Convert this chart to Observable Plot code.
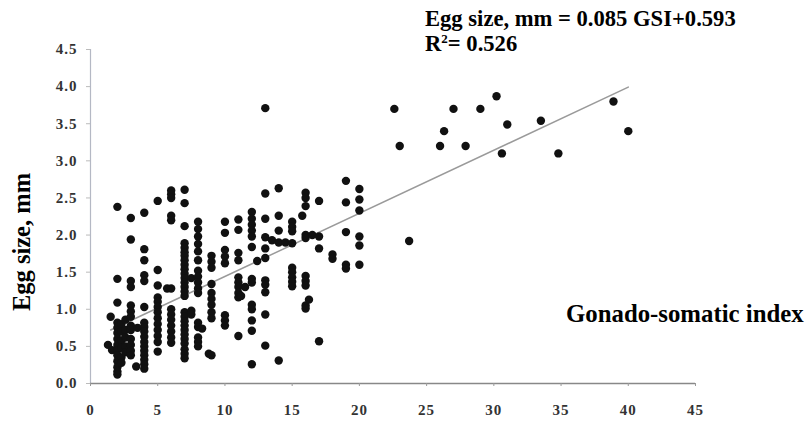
<!DOCTYPE html>
<html>
<head>
<meta charset="utf-8">
<script src="https://cdn.jsdelivr.net/npm/d3@7"></script>
<script src="https://cdn.jsdelivr.net/npm/@observablehq/plot@0.6"></script>
<style>
  html, body { margin: 0; padding: 0; background: #fff; }
  #chart { width: 807px; height: 421px; }
</style>
</head>
<body>
<div id="chart"></div>
<script>
// Gonado-somatic index (x) of each point
const gsi = [
  1.5, 1.3, 1.6,
  2, 2, 2, 2, 2, 2, 2, 2, 2, 2, 2, 2, 2, 2,
  2.3, 2.3, 2.3, 2.3, 2.3, 2.3,
  2.6, 2.6, 2.6, 2.6, 2.6,
  3, 3, 3, 3, 3, 3, 3, 3, 3, 3, 3, 3, 3,
  3.4, 3.5,
  4, 4, 4, 4, 4, 4, 4, 4, 4, 4, 4, 4, 4, 4, 4, 4, 4,
  5, 5, 5, 5, 5, 5, 5, 5, 5, 5, 5, 5, 5,
  5.7,
  6, 6, 6, 6, 6, 6, 6, 6, 6, 6, 6, 6, 6,
  7, 7, 7, 7, 7, 7, 7, 7, 7, 7, 7, 7, 7, 7, 7, 7, 7, 7, 7, 7, 7, 7, 7, 7, 7, 7, 7,
  7.5, 7.5, 7.5,
  8, 8, 8, 8, 8, 8, 8, 8, 8, 8, 8, 8, 8, 8, 8, 8,
  8.3, 8.8,
  9, 9, 9, 9, 9, 9, 9, 9, 9, 9,
  10, 10, 10, 10, 10, 10, 10, 10,
  11, 11, 11, 11, 11, 11, 11, 11, 11, 11, 11.2, 11.5,
  12, 12, 12, 12, 12, 12, 12, 12, 12, 12, 12, 12, 12, 12.4,
  13, 13, 13, 13, 13, 13, 13, 13, 13, 13, 13, 13.5,
  14, 14, 14, 14, 14, 14.5,
  15, 15, 15, 15, 15, 15, 15, 15, 15,
  15.75, 16, 16, 16, 16, 16, 16, 16, 16, 16, 16, 16.25, 16.5,
  17, 17, 17, 17,
  18, 18,
  19, 19, 19, 19, 19,
  20, 20, 20, 20, 20, 20,
  23.7,
  22.6, 23.0, 26.0, 26.3, 27.0, 27.9, 29.0, 30.2, 30.6, 31.0, 33.5, 34.8, 38.9, 40.0
];

// Egg size, mm (y) of each point, same order
const eggSize = [
  0.90, 0.52, 0.45,
  2.38, 1.41, 1.09, 0.82, 0.75, 0.68, 0.60, 0.52, 0.45, 0.38, 0.30, 0.22, 0.16, 0.12,
  0.80, 0.70, 0.58, 0.48, 0.35, 0.28,
  0.86, 0.72, 0.62, 0.50, 0.42,
  2.23, 1.94, 1.38, 1.30, 1.05, 0.97, 0.90, 0.78, 0.72, 0.60, 0.52, 0.44, 0.38,
  0.23, 0.75,
  2.30, 1.81, 1.66, 1.46, 1.38, 1.03, 0.82, 0.76, 0.70, 0.63, 0.56, 0.50, 0.44, 0.38, 0.32, 0.26, 0.20,
  2.46, 1.53, 1.32, 1.16, 1.10, 1.03, 0.96, 0.88, 0.80, 0.72, 0.64, 0.56, 0.43,
  1.28,
  2.60, 2.55, 2.50, 2.26, 2.20, 1.28, 1.00, 0.93, 0.86, 0.78, 0.70, 0.62, 0.55,
  2.61, 2.43, 2.12, 1.89, 1.83, 1.77, 1.72, 1.66, 1.60, 1.54, 1.48, 1.42, 1.36, 1.30, 1.24, 1.18,
  0.96, 0.90, 0.84, 0.78, 0.72, 0.66, 0.60, 0.54, 0.46, 0.40, 0.34,
  1.42, 0.98, 0.93,
  2.18, 2.08, 1.98, 1.88, 1.78, 1.66, 1.52, 1.44, 1.36, 1.28, 1.22, 0.82, 0.76, 0.62, 0.56, 0.50,
  0.74, 0.40,
  1.72, 1.64, 1.56, 1.34, 1.22, 1.14, 1.06, 0.96, 0.88, 0.38,
  2.18, 2.03, 1.80, 1.71, 1.62, 0.92, 0.85, 0.78,
  2.21, 2.07, 1.76, 1.66, 1.43, 1.36, 1.30, 1.22, 1.16, 0.64, 1.18, 1.30,
  2.31, 2.22, 2.14, 2.06, 1.98, 1.84, 1.41, 1.36, 1.06, 1.00, 0.85, 0.71, 0.26, 1.65,
  3.71, 2.56, 2.22, 1.97, 1.82, 1.69, 1.39, 1.33, 1.23, 0.93, 0.51, 1.93,
  2.63, 2.26, 2.06, 1.90, 0.31, 1.90,
  2.18, 2.11, 2.05, 1.89, 1.56, 1.50, 1.43, 1.37, 1.31,
  2.26, 2.57, 2.50, 2.39, 2.00, 1.96, 1.45, 1.38, 1.32, 1.05, 1.01, 1.13, 2.00,
  2.46, 1.98, 1.82, 0.57,
  1.74, 1.68,
  2.73, 2.44, 2.04, 1.60, 1.55,
  2.62, 2.48, 2.33, 1.98, 1.86, 1.60,
  1.92,
  3.70, 3.20, 3.20, 3.40, 3.70, 3.20, 3.70, 3.87, 3.10, 3.49, 3.54, 3.10, 3.80, 3.40
];

const xTicks = [0, 5, 10, 15, 20, 25, 30, 35, 40, 45];
const yTicks = [0, 0.5, 1.0, 1.5, 2.0, 2.5, 3.0, 3.5, 4.0, 4.5];

// Fitted line: Egg size = 0.085 GSI + 0.593
const fitSlope = 0.085;
const fitIntercept = 0.593;
const fitRange = [1.5, 40];

const equationText = "Egg size, mm = 0.085 GSI+0.593";
const r2Value = "= 0.526";
const xLabel = "Gonado-somatic index";
const yLabel = "Egg size, mm";

const points = gsi.map((x, i) => ({x, y: eggSize[i]}));
const fitLine = fitRange.map(x => ({x, y: fitSlope * x + fitIntercept}));

const serif = "Liberation Serif";

const plot = Plot.plot({
  width: 807,
  height: 421,
  marginLeft: 90,
  marginRight: 112,
  marginTop: 49,
  marginBottom: 38,
  style: {fontFamily: serif, fontWeight: "bold", fontSize: "15px", background: "#fff", color: "#333"},
  x: {domain: [0, 45]},
  y: {domain: [0, 4.5]},
  marks: [
    Plot.ruleX([0], {stroke: "#b4b8c4", strokeWidth: 1.2}),
    Plot.ruleY([0], {stroke: "#888", strokeWidth: 1.5}),
    Plot.axisX({ticks: xTicks, tickSize: 3, tickPadding: 18, label: null, stroke: "#999", fill: "#333",
      fontFamily: serif, fontSize: 15, fontWeight: "bold", tickFormat: d => String(d)}),
    Plot.axisY({ticks: yTicks, tickSize: 4, tickPadding: 9, label: null, stroke: "#bbb", fill: "#333",
      fontFamily: serif, fontSize: 15, fontWeight: "bold", tickFormat: d3.format(".1f")}),
    Plot.line(fitLine, {x: "x", y: "y", stroke: "#9a9a9a", strokeWidth: 1.5}),
    Plot.dot(points, {x: "x", y: "y", r: 4.2, fill: "#111", stroke: "none"})
  ]
});

document.getElementById("chart").appendChild(plot);

// slightly widen tick labels like the reference's stretched numerals
d3.select(plot).selectAll("g[aria-label='x-axis tick label'] text, g[aria-label='y-axis tick label'] text")
  .style("letter-spacing", "1px");

const svg = d3.select(plot);

function addText(x, y, size) {
  return svg.append("text")
    .attr("x", x).attr("y", y)
    .style("text-anchor", "start")
    .style("font-family", serif)
    .style("font-weight", "bold")
    .style("font-size", size + "px")
    .attr("fill", "#000");
}

addText(425, 26, 22.6).text(equationText);

const r2 = addText(425, 51, 22.6);
r2.append("tspan").text("R");
r2.append("tspan").style("font-size", "13px").attr("dy", -8).text("2");
r2.append("tspan").attr("dy", 8).text(r2Value);

addText(566, 322, 24.8).text(xLabel);

svg.append("text")
  .attr("transform", "translate(30,242) rotate(-90)")
  .style("text-anchor", "middle")
  .style("font-family", serif)
  .style("font-weight", "bold")
  .style("font-size", "24.5px")
  .attr("fill", "#000")
  .text(yLabel);
</script>
</body>
</html>
